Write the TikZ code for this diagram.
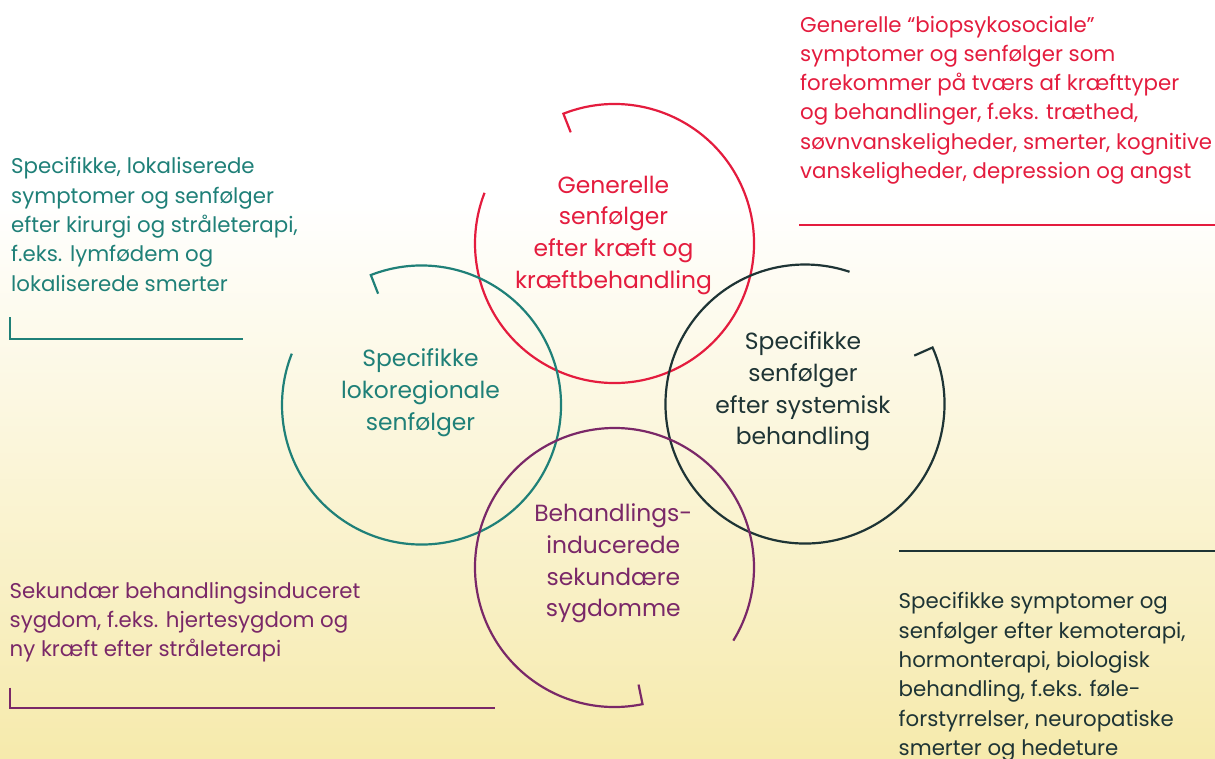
\documentclass[tikz,border=0pt]{standalone}
\usepackage{fontspec}
\setmainfont{Poppins}
\usetikzlibrary{calc}
\definecolor{redc}{RGB}{228,28,62}
\definecolor{tealc}{RGB}{31,128,120}
\definecolor{darkc}{RGB}{30,52,53}
\definecolor{purc}{RGB}{122,40,104}
\definecolor{bgbot}{RGB}{246,234,172}
\newlength\calwA
\newlength\calwB
\AtBeginDocument{%
  \settowidth\calwA{\fontsize{10}{12}\selectfont søvnvanskeligheder, smerter, kognitive}%
  \pgfmathsetmacro\sidesize{10*412/\calwA}%
  \xdef\sidesize{\sidesize}%
  \settowidth\calwB{\fontsize{10}{12}\selectfont kræftbehandling}%
  \pgfmathsetmacro\ctrsize{10*197/\calwB}%
  \xdef\ctrsize{\ctrsize}%
}
\newcommand\myring[4]{%
  \draw[ring,#4] ($(#1)+({-#2}:119.5)$) -- ($(#1)+({-#2}:139.5)$)
    arc[start angle={-#2}, end angle={360-#3}, radius=139.5];}
\begin{document}
\begin{tikzpicture}[x=1pt,y=-1pt,
  sidetext/.style={inner sep=0pt, anchor=base west, align=left, font=\fontsize{\sidesize}{29.3}\selectfont},
  ctrtext/.style={inner sep=0pt, anchor=base, align=center, font=\fontsize{\ctrsize}{31.7}\selectfont},
  ring/.style={line width=2.2pt},
  rule/.style={line width=2pt}]
\useasboundingbox (0,0) rectangle (1215,758);
\fill[white] (0,0) rectangle (1215,758);
\shade[top color=white, bottom color=bgbot] (0,200) rectangle (1215,758);

% ring centres
\coordinate (cR) at (614.5,243.5);
\coordinate (cT) at (421.5,405);
\coordinate (cD) at (805,404);
\coordinate (cP) at (614.5,567.5);

\myring{cR}{111.5}{158.7}{redc}
\myring{cT}{111.3}{158.4}{tealc}
\myring{cD}{23.9}{71.4}{darkc}
\myring{cP}{281.6}{328.4}{purc}

% ring labels (positioned at the baseline of the last line)
\node[ctrtext, text=redc] (lR) at (613.5,288.3) {Generelle\\senfølger\\efter kræft og\\kræftbehandling};
\node[ctrtext, text=tealc] (lT) at (420.5,430.3) {Specifikke\\lokoregionale\\senfølger};
\node[ctrtext, text=darkc] (lD) at (803,444.8) {Specifikke\\senfølger\\efter systemisk\\behandling};
\node[ctrtext, text=purc] (lP) at (613.3,616.7) {Behandlings-\\inducerede\\sekundære\\sygdomme};

% side texts (positioned at the baseline of the last line)
\node[sidetext, text=redc] (tR) at (800,178.5) {Generelle “biopsykosociale”\\symptomer og senfølger som\\forekommer på tværs af kræfttyper\\og behandlinger, f.eks. træthed,\\søvnvanskeligheder, smerter, kognitive\\vanskeligheder, depression og angst};
\node[sidetext, text=tealc] (tT) at (11,291) {Specifikke, lokaliserede\\symptomer og senfølger\\efter kirurgi og stråleterapi,\\f.eks. lymfødem og\\lokaliserede smerter};
\node[sidetext, text=purc] (tP) at (9.5,656.8) {Sekundær behandlingsinduceret\\sygdom, f.eks. hjertesygdom og\\ny kræft efter stråleterapi};
\node[sidetext, text=darkc] (tD) at (898.5,755.3) {Specifikke symptomer og\\senfølger efter kemoterapi,\\hormonterapi, biologisk\\behandling, f.eks. føle-\\forstyrrelser, neuropatiske\\smerter og hedeture};

% rules
\coordinate (rR1) at (799,225.3);
\coordinate (rR2) at (1215,225.3);
\draw[rule,redc] (rR1) -- (rR2);
\coordinate (rT1) at (10,317.3);
\coordinate (rT2) at (10,339);
\coordinate (rT3) at (243.3,339);
\draw[rule,tealc] (rT1) -- (rT2) -- (rT3);
\coordinate (rP1) at (10,687.7);
\coordinate (rP2) at (10,708.3);
\coordinate (rP3) at (495,708.3);
\draw[rule,purc] (rP1) -- (rP2) -- (rP3);
\coordinate (rD1) at (899,550.7);
\coordinate (rD2) at (1215,550.7);
\draw[rule,darkc] (rD1) -- (rD2);
\end{tikzpicture}
\end{document}
